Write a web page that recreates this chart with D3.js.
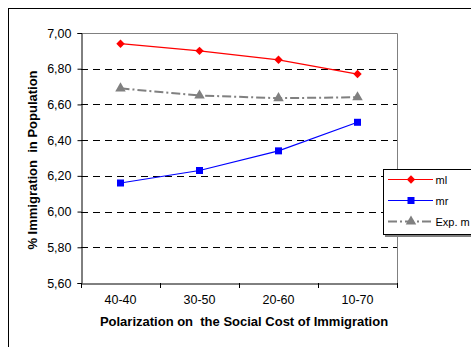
<!DOCTYPE html>
<html>
<head>
<meta charset="utf-8">
<script src="https://cdn.jsdelivr.net/npm/d3@7/dist/d3.min.js"></script>
<style>
  html, body { margin: 0; padding: 0; background: #fff; }
  svg { display: block; font-family: Arial, "Liberation Sans", sans-serif; }
  text { white-space: pre; }
</style>
</head>
<body>
<svg id="chart" width="471" height="347"></svg>
<script>
// Data
const categories = ["40-40", "30-50", "20-60", "10-70"];
const mlValues = [6.94, 6.90, 6.85, 6.77];
const mrValues = [6.16, 6.23, 6.34, 6.50];
const expValues = [6.69, 6.65, 6.635, 6.64];
const yTicks = [5.6, 5.8, 6.0, 6.2, 6.4, 6.6, 6.8, 7.0];
const seriesNames = ["ml", "mr", "Exp. m"];

const svg = d3.select("#chart");
const W = 471, H = 347;
const FONT = "Arial, 'Liberation Sans', sans-serif";

// chart frame
svg.append("rect")
  .attr("x", 8.5).attr("y", 8.5)
  .attr("width", W + 20).attr("height", H + 20)
  .attr("fill", "#fff").attr("stroke", "#000").attr("stroke-width", 1);

const plot = { left: 81, top: 33, right: 397, bottom: 283 };

const x = d3.scaleBand().domain(categories).range([plot.left, plot.right]);
const y = d3.scaleLinear().domain([5.6, 7.0]).range([plot.bottom, plot.top]);
const fmt = v => d3.format(".2f")(v).replace(".", ",");

// plot area border (top and right)
svg.append("path")
  .attr("d", `M${plot.left},${plot.top + 0.5}H${plot.right + 0.5}V${plot.bottom}`)
  .attr("fill", "none").attr("stroke", "#808080").attr("stroke-width", 1);

// dashed gridlines
svg.append("g").selectAll("line")
  .data(yTicks.filter(t => t > 5.6 && t < 7.0))
  .join("line")
  .attr("x1", plot.left).attr("x2", plot.right)
  .attr("y1", d => Math.round(y(d)) + 0.5).attr("y2", d => Math.round(y(d)) + 0.5)
  .attr("stroke", "#000").attr("stroke-width", 1)
  .attr("stroke-dasharray", "7,5");

// y axis
const yAxis = svg.append("g")
  .attr("transform", `translate(${plot.left + 0.5},0)`)
  .call(d3.axisLeft(y).tickValues(yTicks).tickFormat(fmt).tickSize(4).tickPadding(6));
yAxis.select(".domain").attr("stroke", "#000");
yAxis.selectAll(".tick line").attr("stroke", "#000");
yAxis.selectAll(".tick text").attr("font-size", 12.5).attr("fill", "#000")
  .attr("font-family", FONT);

// x axis
const xAxis = svg.append("g")
  .attr("transform", `translate(0,${plot.bottom + 0.5})`)
  .call(d3.axisBottom(x).tickSize(0).tickPadding(12));
xAxis.select(".domain").attr("stroke", "#000");
xAxis.selectAll(".tick text").attr("font-size", 12.5).attr("fill", "#000")
  .attr("font-family", FONT);
// tick marks between categories
const bounds = categories.map(c => x(c)).concat([x(categories[categories.length - 1]) + x.bandwidth()]);
svg.append("g").selectAll("line").data(bounds).join("line")
  .attr("x1", d => Math.round(d) + 0.5).attr("x2", d => Math.round(d) + 0.5)
  .attr("y1", plot.bottom).attr("y2", plot.bottom + 5)
  .attr("stroke", "#000");

// axis titles
svg.append("text")
  .attr("x", 244).attr("y", 326)
  .attr("text-anchor", "middle")
  .attr("font-size", 13).attr("font-weight", "bold")
  .text("Polarization on  the Social Cost of Immigration");

svg.append("text")
  .attr("transform", `translate(37,${(plot.top + plot.bottom) / 2 + 2}) rotate(-90)`)
  .attr("text-anchor", "middle")
  .attr("font-size", 13).attr("font-weight", "bold")
  .text("% Immigration  in Population");

const cx = c => x(c) + x.bandwidth() / 2;
const line = d3.line().x((d, i) => cx(categories[i])).y(d => y(d));

// marker shapes
const diamondPath = "M0,-4.2L4.2,0L0,4.2L-4.2,0Z";
const tri = d3.symbol().type(d3.symbolTriangle).size(48);

// Exp. series
svg.append("path").datum(expValues)
  .attr("d", line).attr("fill", "none")
  .attr("stroke", "#808080").attr("stroke-width", 2)
  .attr("stroke-dasharray", "9,3,2,3");
svg.append("g").selectAll("path").data(expValues).join("path")
  .attr("d", tri)
  .attr("transform", (d, i) => `translate(${cx(categories[i])},${y(d)})`)
  .attr("fill", "#808080");

// ml series
svg.append("path").datum(mlValues)
  .attr("d", line).attr("fill", "none")
  .attr("stroke", "#ff0000").attr("stroke-width", 1.2);
svg.append("g").selectAll("path").data(mlValues).join("path")
  .attr("d", diamondPath)
  .attr("transform", (d, i) => `translate(${cx(categories[i])},${y(d)})`)
  .attr("fill", "#ff0000");

// mr series
svg.append("path").datum(mrValues)
  .attr("d", line).attr("fill", "none")
  .attr("stroke", "#0000ff").attr("stroke-width", 1.2);
svg.append("g").selectAll("rect").data(mrValues).join("rect")
  .attr("x", (d, i) => cx(categories[i]) - 3.5)
  .attr("y", d => y(d) - 3.5)
  .attr("width", 7).attr("height", 7)
  .attr("fill", "#0000ff");

// legend
const lg = svg.append("g");
lg.append("rect").attr("x", 385).attr("y", 171).attr("width", 120).attr("height", 66)
  .attr("fill", "#808080");
lg.append("rect").attr("x", 383.5).attr("y", 169.5).attr("width", 120).attr("height", 65)
  .attr("fill", "#fff").attr("stroke", "#000").attr("stroke-width", 1);
const legendRows = [
  { name: seriesNames[0], color: "#ff0000", dash: null, w: 1.2, y: 179.5, marker: "diamond" },
  { name: seriesNames[1], color: "#0000ff", dash: null, w: 1.2, y: 200.5, marker: "square" },
  { name: seriesNames[2], color: "#808080", dash: "9,3,2,3", w: 2, y: 221.5, marker: "triangle" }
];
legendRows.forEach(r => {
  lg.append("line").attr("x1", 388).attr("x2", 433).attr("y1", r.y).attr("y2", r.y)
    .attr("stroke", r.color).attr("stroke-width", r.w)
    .attr("stroke-dasharray", r.dash);
  if (r.marker === "square") {
    lg.append("rect").attr("x", 407.5).attr("y", r.y - 3.5).attr("width", 7).attr("height", 7)
      .attr("fill", r.color);
  } else {
    lg.append("path").attr("d", r.marker === "diamond" ? diamondPath : tri)
      .attr("transform", `translate(411,${r.y})`).attr("fill", r.color);
  }
  lg.append("text").attr("x", 435.5).attr("y", r.y + 4)
    .attr("font-size", 11).text(r.name);
});
</script>
</body>
</html>
